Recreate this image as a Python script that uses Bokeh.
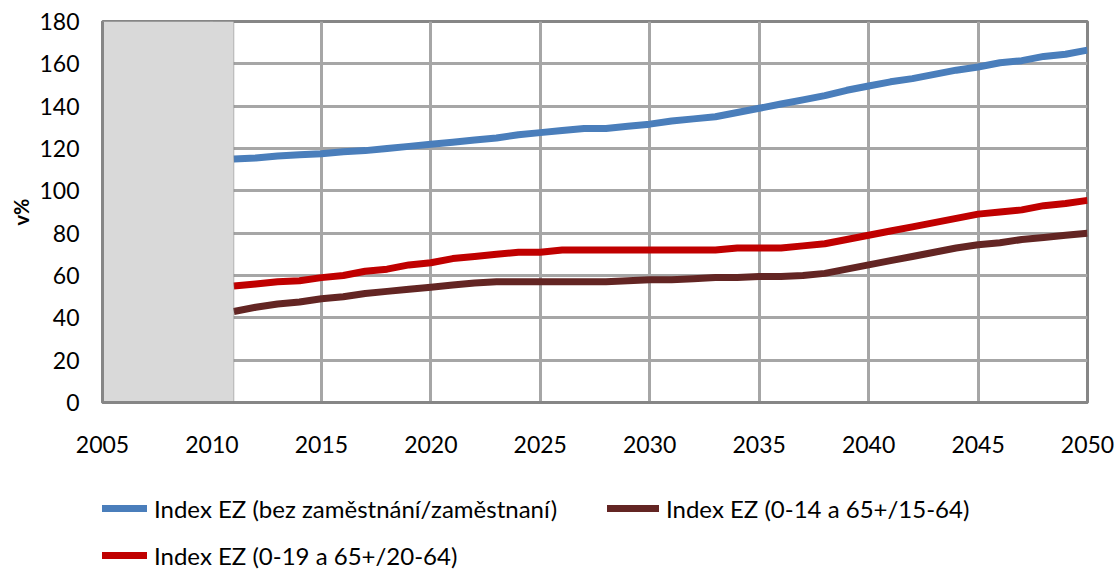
from bokeh.plotting import figure
from bokeh.layouts import column
from bokeh.models import Range1d, Legend, LegendItem, Span, FixedTicker
from bokeh.embed import file_html
from bokeh.resources import INLINE

years = list(range(2011, 2051))
blue = [115, 115.5, 116.5, 117, 117.5, 118.5, 119, 120, 121, 122,
        123, 124, 125, 126.5, 127.5, 128.5, 129.5, 129.5, 130.5, 131.5,
        133, 134, 135, 137, 139, 141, 143, 145, 147.5, 149.5,
        151.5, 153, 155, 157, 158.5, 160.5, 161.5, 163.5, 164.5, 166.5]
brown = [43, 45, 46.5, 47.5, 49, 50, 51.5, 52.5, 53.5, 54.5,
         55.5, 56.5, 57, 57, 57, 57, 57, 57, 57.5, 58,
         58, 58.5, 59, 59, 59.5, 59.5, 60, 61, 63, 65,
         67, 69, 71, 73, 74.5, 75.5, 77, 78, 79, 80]
red = [55, 56, 57, 57.5, 59, 60, 62, 63, 65, 66,
       68, 69, 70, 71, 71, 72, 72, 72, 72, 72,
       72, 72, 72, 73, 73, 73, 74, 75, 77, 79,
       81, 83, 85, 87, 89, 90, 91, 93, 94, 95.5]
labels = ["Index EZ (bez zaměstnání/zaměstnaní)",
          "Index EZ (0-14 a 65+/15-64)",
          "Index EZ (0-19 a 65+/20-64)"]
colors = ["#4A7EBB", "#632523", "#C00000"]
x_ticks = list(range(2005, 2051, 5))
y_ticks = list(range(0, 181, 20))
x_start, x_end = 2005, 2050
y_start, y_end = 0, 180

FONT = "Lato"

p = figure(width=1118, height=468, output_backend="svg", toolbar_location=None,
           x_range=Range1d(x_start, x_end), y_range=Range1d(y_start, y_end),
           min_border_left=102, min_border_right=31, min_border_top=21,
           min_border_bottom=66, background_fill_color="white",
           border_fill_color="white")

# grid
for g in (p.xgrid, p.ygrid):
    g.grid_line_color = "#A6A6A6"
    g.grid_line_width = 3
p.xgrid.ticker = FixedTicker(ticks=x_ticks)
p.ygrid.ticker = FixedTicker(ticks=y_ticks)

# shaded (historical) region
p.quad(left=[x_start], right=[years[0]], bottom=[y_start], top=[y_end],
       fill_color="#D9D9D9", line_color=None)
p.add_layout(Span(location=years[0], dimension="height", line_color="#7F7F7F",
                  line_width=1, line_dash="1 1"))

# series
series = [blue, brown, red]
for ys, c in zip(series, colors):
    p.line(years, ys, line_color=c, line_width=7, line_join="round")

# frame
p.outline_line_color = "#868686"
p.outline_line_width = 3

# axes
for ax in (p.xaxis[0], p.yaxis[0]):
    ax.axis_line_color = "#868686"
    ax.axis_line_width = 3
    ax.major_tick_line_color = None
    ax.minor_tick_line_color = None
    ax.major_tick_out = 0
    ax.major_tick_in = 0
    ax.major_label_text_font = FONT
    ax.major_label_text_font_size = "23px"
    ax.major_label_text_color = "#000000"
p.xaxis.ticker = FixedTicker(ticks=x_ticks)
p.yaxis.ticker = FixedTicker(ticks=y_ticks)
p.xaxis.major_label_standoff = 33
p.yaxis.major_label_standoff = 23
p.yaxis.axis_label = "v%"
p.yaxis.axis_label_text_font = FONT
p.yaxis.axis_label_text_font_style = "bold"
p.yaxis.axis_label_text_font_size = "20px"
p.yaxis.axis_label_text_color = "#000000"
p.yaxis.axis_label_standoff = 3

# legend strip below the chart
lg = figure(width=1118, height=102, output_backend="svg", toolbar_location=None,
            x_range=Range1d(0, 1), y_range=Range1d(0, 1),
            x_axis_location=None, y_axis_location=None,
            min_border=0, outline_line_color=None,
            background_fill_color="white", border_fill_color="white")
lg.xgrid.visible = False
lg.ygrid.visible = False

nan = float("nan")
locs = [(0, 47), (505, 47), (0, 0)]
gw = [45, 52, 45]
for lab, c, loc, w in zip(labels, colors, locs, gw):
    r = lg.line(x=[nan], y=[nan], line_color=c, line_width=7, line_cap="round")
    leg = Legend(items=[LegendItem(label=lab, renderers=[r])],
                 location=loc, orientation="horizontal",
                 border_line_color=None, background_fill_alpha=0,
                 padding=0, margin=0, glyph_width=w, glyph_height=30,
                 label_height=30, label_standoff=7,
                 label_text_font=FONT, label_text_font_size="24px",
                 label_text_color="#000000")
    lg.add_layout(leg)

open("out.html", "w").write(file_html(column(p, lg, spacing=0), INLINE))
